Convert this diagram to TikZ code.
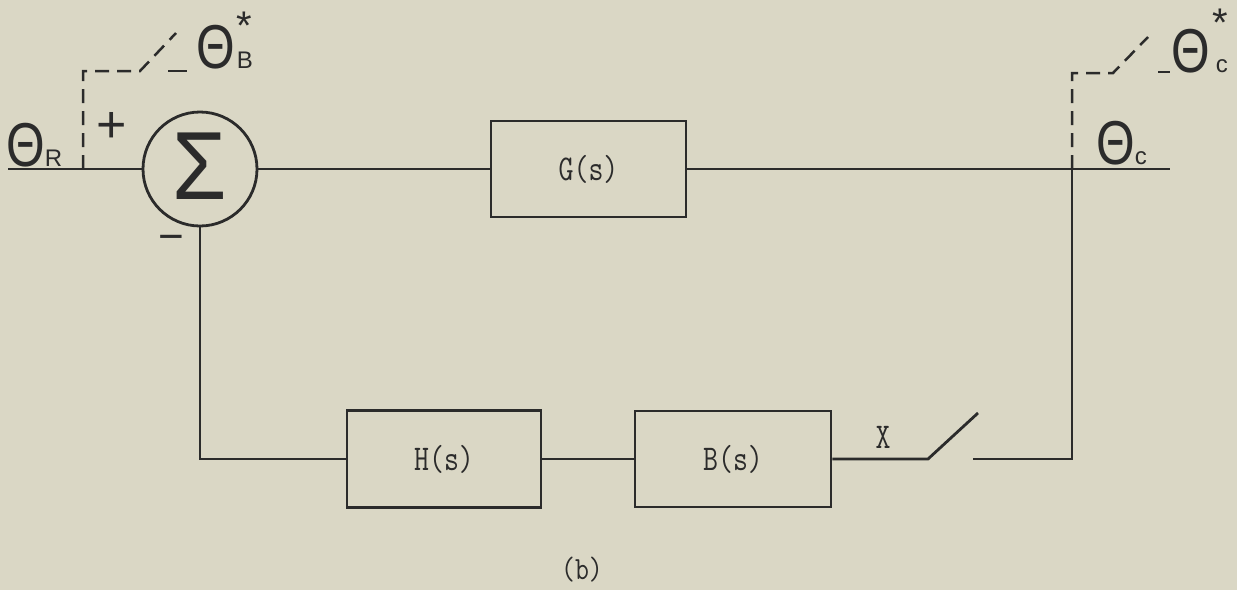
\documentclass[tikz,border=0pt]{standalone}
\usepackage{fontspec}
\setmainfont{Liberation Sans}
\definecolor{paper}{HTML}{DAD7C5}
\definecolor{ink}{HTML}{2B2B2B}
\newcommand{\twlab}[1]{\scalebox{1}[1.25]{\ttfamily\fontsize{29}{30}\selectfont #1}}
\newcommand{\bigth}{\scalebox{0.8}[1]{\fontsize{62}{64}\selectfont Θ}}
\newcommand{\subl}[1]{{\fontsize{24}{24}\selectfont #1}}
\newcommand{\starup}[1]{\makebox[0pt][l]{\raisebox{#1}{\fontsize{40}{40}\selectfont *}}}
\begin{document}
\begin{tikzpicture}[x=1pt,y=-1pt,
  ln/.style={draw=ink, line width=2.8pt},
  dsh/.style={draw=ink, line width=2.5pt, dash pattern=on 14pt off 8pt},
  block/.style={draw=ink, line width=2.8pt, rectangle, inner sep=0pt, text=ink},
  lab/.style={inner sep=0pt, text=ink}]
\path[fill=paper] (0,0) rectangle (1237,590);

% blocks
\node[circle, draw=ink, line width=2.8pt, minimum size=114pt, inner sep=0pt, text=ink] (sum) at (200,169)
  {\raisebox{6pt}{\scalebox{1}[1.1]{\fontsize{88}{90}\selectfont Σ}}};
\node[block, minimum width=195pt, minimum height=96pt] (G) at (588.5,169) {\twlab{G(s)}};
\node[block, minimum width=194pt, minimum height=97pt] (H) at (444,459) {\twlab{H(s)}};
\node[block, minimum width=196pt, minimum height=96pt] (B) at (733,459) {\twlab{B(s)}};

% coordinates
\coordinate (in) at (8,169);
\coordinate (tapB) at (83,169);
\coordinate (tapC) at (1072,169);
\coordinate (out) at (1170,169);
\coordinate (sw1) at (928,459);
\coordinate (sw2) at (978,413);
\coordinate (sw3) at (973,459);
\coordinate (corner) at (1072,459);
\coordinate (dB1) at (83,71);
\coordinate (dB2) at (140,71);
\coordinate (dB3) at (176,33);
\coordinate (dB4) at (168,71);
\coordinate (dB5) at (187,71);
\coordinate (dC1) at (1072,73);
\coordinate (dC2) at (1113,73);
\coordinate (dC3) at (1148,37);
\coordinate (dC4) at (1158,72);
\coordinate (dC5) at (1170,72);

% solid connectors
\draw[ln] (in) -- (sum.west);
\draw[ln] (sum.east) -- (G.west);
\draw[ln] (G.east) -- (out);
\draw[ln] (sum.south) |- (H.west);
\draw[ln] (H.east) -- (B.west);
\draw[ln] (B.east) -- (sw1) -- (sw2);
\draw[ln] (sw3) -- (corner) -- (tapC);

% dashed sampler paths
\draw[dsh] (tapB) -- (dB1) -- (dB2) -- (dB3);
\draw[ln, line width=2.5pt] (dB4) -- (dB5);
\draw[dsh] (tapC) -- (dC1) -- (dC2) -- (dC3);
\draw[ln, line width=2.5pt] (dC4) -- (dC5);

% labels
\node[lab, anchor=base west] (thR) at (6,166) {\bigth\subl{R}};
\node[lab, anchor=base west] (thBs) at (196,68) {\bigth\hspace{2pt}\starup{29pt}\subl{B}};
\node[lab, anchor=base west] (thCs) at (1171,72) {\bigth\hspace{3pt}\starup{36pt}\hspace{3pt}\subl{c}};
\node[lab, anchor=base west] (thC) at (1096,164) {\bigth\subl{c}};
\node[lab] (plus) at (112,127) {\fontsize{52}{52}\selectfont +};
\node[lab] (minus) at (171,243) {\fontsize{44}{44}\selectfont −};
\node[lab] (xl) at (883,437) {\twlab{X}};
\node[lab] (cap) at (582,570) {\scalebox{1}[1.2]{\ttfamily\fontsize{27}{28}\selectfont (b)}};
\end{tikzpicture}
\end{document}
